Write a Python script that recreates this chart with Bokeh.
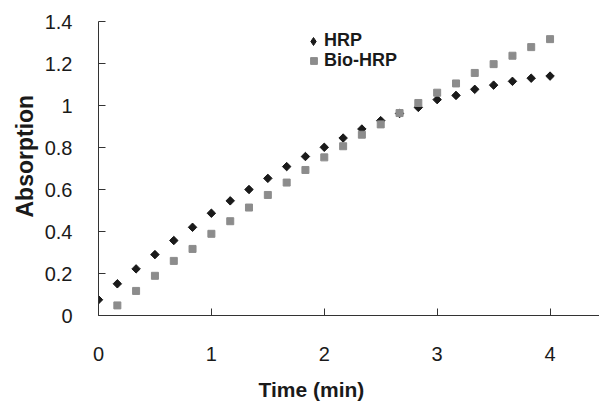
import numpy as np
from bokeh.plotting import figure
from bokeh.models import Range1d, FixedTicker, Legend, LegendItem, Title
from bokeh.embed import file_html
from bokeh.resources import INLINE

# ---- data ----
time_hrp = [0.0, 0.167, 0.333, 0.5, 0.667, 0.833, 1.0, 1.167, 1.333, 1.5, 1.667, 1.833,
            2.0, 2.167, 2.333, 2.5, 2.667, 2.833, 3.0, 3.167, 3.333, 3.5, 3.667, 3.833, 4.0]
abs_hrp = [0.075, 0.151, 0.222, 0.290, 0.357, 0.420, 0.487, 0.546, 0.600, 0.653, 0.709, 0.757,
           0.801, 0.845, 0.888, 0.928, 0.962, 0.991, 1.028, 1.048, 1.077, 1.097, 1.115, 1.130, 1.140]

time_bio = [0.167, 0.333, 0.5, 0.667, 0.833, 1.0, 1.167, 1.333, 1.5, 1.667, 1.833,
            2.0, 2.167, 2.333, 2.5, 2.667, 2.833, 3.0, 3.167, 3.333, 3.5, 3.667, 3.833, 4.0]
abs_bio = [0.048, 0.117, 0.189, 0.260, 0.317, 0.389, 0.449, 0.514, 0.574, 0.633, 0.693,
           0.753, 0.806, 0.861, 0.910, 0.964, 1.012, 1.061, 1.105, 1.155, 1.197, 1.237, 1.278, 1.316]

x_ticks = [0, 1, 2, 3, 4]
x_tick_labels = ["0", "1", "2", "3", "4"]
y_ticks = [0, 0.2, 0.4, 0.6, 0.8, 1.0, 1.2, 1.4]
y_tick_labels = ["0", "0.2", "0.4", "0.6", "0.8", "1", "1.2", "1.4"]

series_names = ["HRP", "Bio-HRP"]
x_title = "Time (min)"
y_title = "Absorption"

FONT = "Liberation Sans"
TXT = "#1a1a1a"
AX = "#333333"
C_HRP = "#1a1a1a"
C_BIO = "#8c8c8c"

p = figure(width=599, height=403, output_backend="svg", toolbar_location=None,
           x_range=Range1d(0, 4.438), y_range=Range1d(0, 1.4),
           min_border_left=98, min_border_right=0, min_border_top=21, min_border_bottom=88)
p.background_fill_color = "white"
p.border_fill_color = "white"
p.outline_line_color = None
p.grid.visible = False

# legend-shape helper (hidden beneath the rotated squares)
r_hrp_leg = p.scatter(time_hrp, abs_hrp, marker="diamond", size=7,
                      fill_color=C_HRP, line_color=C_HRP)
r_hrp = p.scatter(time_hrp, abs_hrp, marker="square", angle=np.pi / 4, size=6,
                  fill_color=C_HRP, line_color=C_HRP)
r_bio = p.scatter(time_bio, abs_bio, marker="square", size=7,
                  fill_color=C_BIO, line_color=C_BIO)

for ax in (p.xaxis[0], p.yaxis[0]):
    ax.axis_line_color = AX
    ax.major_tick_line_color = AX
    ax.major_tick_in = 7
    ax.major_tick_out = 0
    ax.minor_tick_line_color = None
    ax.major_label_text_font = FONT
    ax.major_label_text_font_size = "20px"
    ax.major_label_text_color = TXT

p.xaxis.ticker = FixedTicker(ticks=x_ticks)
p.xaxis.major_label_overrides = {t: l for t, l in zip(x_ticks, x_tick_labels)}
p.yaxis.ticker = FixedTicker(ticks=y_ticks)
p.yaxis.major_label_overrides = {t: l for t, l in zip(y_ticks, y_tick_labels)}
p.xaxis.major_label_standoff = 31
p.yaxis.major_label_standoff = 26
# invisible spacer label to push the x title down a little
p.xaxis.axis_label = " "
p.xaxis.axis_label_text_font_size = "1px"
p.xaxis.axis_label_standoff = 8

xt = Title(text=x_title, align="left", offset=160, standoff=0,
           text_font=FONT, text_font_size="21px", text_font_style="bold", text_color=TXT)
yt = Title(text=y_title, align="left", offset=98, standoff=8,
           text_font=FONT, text_font_size="23px", text_font_style="bold", text_color=TXT)
p.add_layout(xt, "below")
p.add_layout(yt, "left")


def make_legend(label, rend, box, x, y, standoff):
    lg = Legend(items=[LegendItem(label=label, renderers=[rend])], location=(x, y))
    lg.background_fill_alpha = 0
    lg.border_line_color = None
    lg.padding = 0
    lg.margin = 0
    lg.glyph_width = box
    lg.glyph_height = box
    lg.label_height = box
    lg.label_standoff = standoff
    lg.label_text_font = FONT
    lg.label_text_font_size = "18px"
    lg.label_text_font_style = "bold"
    lg.label_text_color = TXT
    return lg


p.add_layout(make_legend(series_names[0], r_hrp_leg, 20, 205, 264, 1), "center")
p.add_layout(make_legend(series_names[1], r_bio, 17, 207, 244, 2), "center")

open("out.html", "w").write(file_html(p, INLINE))
